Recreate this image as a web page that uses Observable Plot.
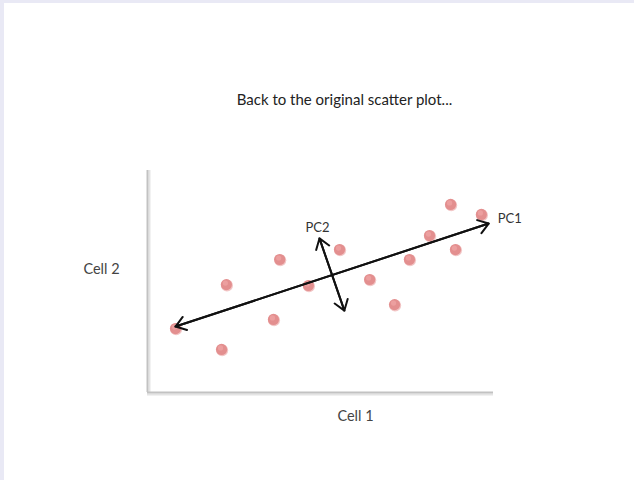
<!DOCTYPE html>
<html>
<head>
<meta charset="utf-8">
<script src="https://cdn.jsdelivr.net/npm/d3@7"></script>
<script src="https://cdn.jsdelivr.net/npm/@observablehq/plot@0.6"></script>
<style>
  html, body { margin: 0; padding: 0; background: #fff; }
  #page { position: relative; width: 634px; height: 480px; overflow: hidden; background: #fff; }
  #page .edge-top { position: absolute; left: 0; top: 0; width: 634px; height: 3px; background: #e9e9f5; }
  #page .edge-left { position: absolute; left: 0; top: 0; width: 4px; height: 480px; background: #e9e9f5; }
  #chart { position: absolute; left: 0; top: 0; }
</style>
</head>
<body>
<div id="page">
  <div id="chart"></div>
  <div class="edge-top"></div>
  <div class="edge-left"></div>
</div>
<script>
// Expression of each sample in two cells
const cell1 = [0.81, 2.14, 2.28, 3.64, 3.82, 4.65, 5.55, 6.42, 7.14, 7.57, 8.15, 8.76, 8.90, 9.65];
const cell2 = [2.88, 1.94, 4.86, 3.29, 5.99, 4.82, 6.44, 5.09, 3.96, 5.99, 7.07, 8.47, 6.44, 8.02];

// Principal component axes: [start, end] in data units
const pcNames = ["PC1", "PC2"];
const pcX1 = [0.81, 5.69];
const pcY1 = [2.97, 3.69];
const pcX2 = [9.86, 4.97];
const pcY2 = [7.61, 6.94];

const titleText = "Back to the original scatter plot...";
const xLabel = "Cell 1";
const yLabel = "Cell 2";

const points = cell1.map((x, i) => ({x, y: cell2[i]}));
const pcs = pcNames.map((name, i) => ({name, x1: pcX1[i], y1: pcY1[i], x2: pcX2[i], y2: pcY2[i]}));

const font = "Lato, 'Open Sans', sans-serif";

const plot = Plot.plot({
  width: 634,
  height: 480,
  marginLeft: 147,
  marginRight: 141,
  marginTop: 170,
  marginBottom: 88,
  style: {background: "transparent", fontFamily: font},
  x: {domain: [0, 10], axis: null},
  y: {domain: [0, 10], axis: null},
  marks: [
    // frame lines (left and bottom), soft grey with a faint shadow
    Plot.ruleY([0], {stroke: "#e4e4e4", strokeWidth: 2, dy: 2}),
    Plot.ruleX([0], {stroke: "#e4e4e4", strokeWidth: 2, dx: 2}),
    Plot.ruleY([0], {stroke: "#c2c2c2", strokeWidth: 2}),
    Plot.ruleX([0], {stroke: "#c2c2c2", strokeWidth: 2}),
    // samples
    Plot.dot(points, {x: "x", y: "y", r: 6, fill: "#f2c6c6", stroke: "none", dx: 0.6, dy: 0.8}),
    Plot.dot(points, {x: "x", y: "y", r: 5.6, fill: "#e38f8f", stroke: "none"}),
    Plot.dot(points, {x: "x", y: "y", r: 2.6, fill: "#ec9f9f", stroke: "none", dx: -1, dy: -1.5}),
    // double-headed component axes
    Plot.arrow(pcs, {x1: "x1", y1: "y1", x2: "x2", y2: "y2", stroke: "#111", strokeWidth: 2, headLength: 9, headAngle: 70}),
    Plot.arrow(pcs, {x1: "x2", y1: "y2", x2: "x1", y2: "y1", stroke: "#111", strokeWidth: 2, headLength: 9, headAngle: 70}),
    Plot.text(pcs.filter(d => d.name === "PC1"), {x: "x2", y: "y2", text: "name", textAnchor: "start", dx: 9, dy: -5, fontSize: 13, fill: "#333"}),
    Plot.text(pcs.filter(d => d.name === "PC2"), {x: "x2", y: "y2", text: "name", dx: -2, dy: -11, fontSize: 13, fill: "#333"}),
    // title and axis labels
    Plot.text([titleText], {frameAnchor: "top", lineAnchor: "middle", dx: 24, dy: -70, fontSize: 15, fill: "#222"}),
    Plot.text([xLabel], {frameAnchor: "bottom", lineAnchor: "middle", dx: 35, dy: 24, fontSize: 14.5, fill: "#444"}),
    Plot.text([yLabel], {frameAnchor: "left", textAnchor: "middle", dx: -46, dy: -12, fontSize: 14.5, fill: "#444"})
  ]
});
document.getElementById("chart").appendChild(plot);
</script>
</body>
</html>
